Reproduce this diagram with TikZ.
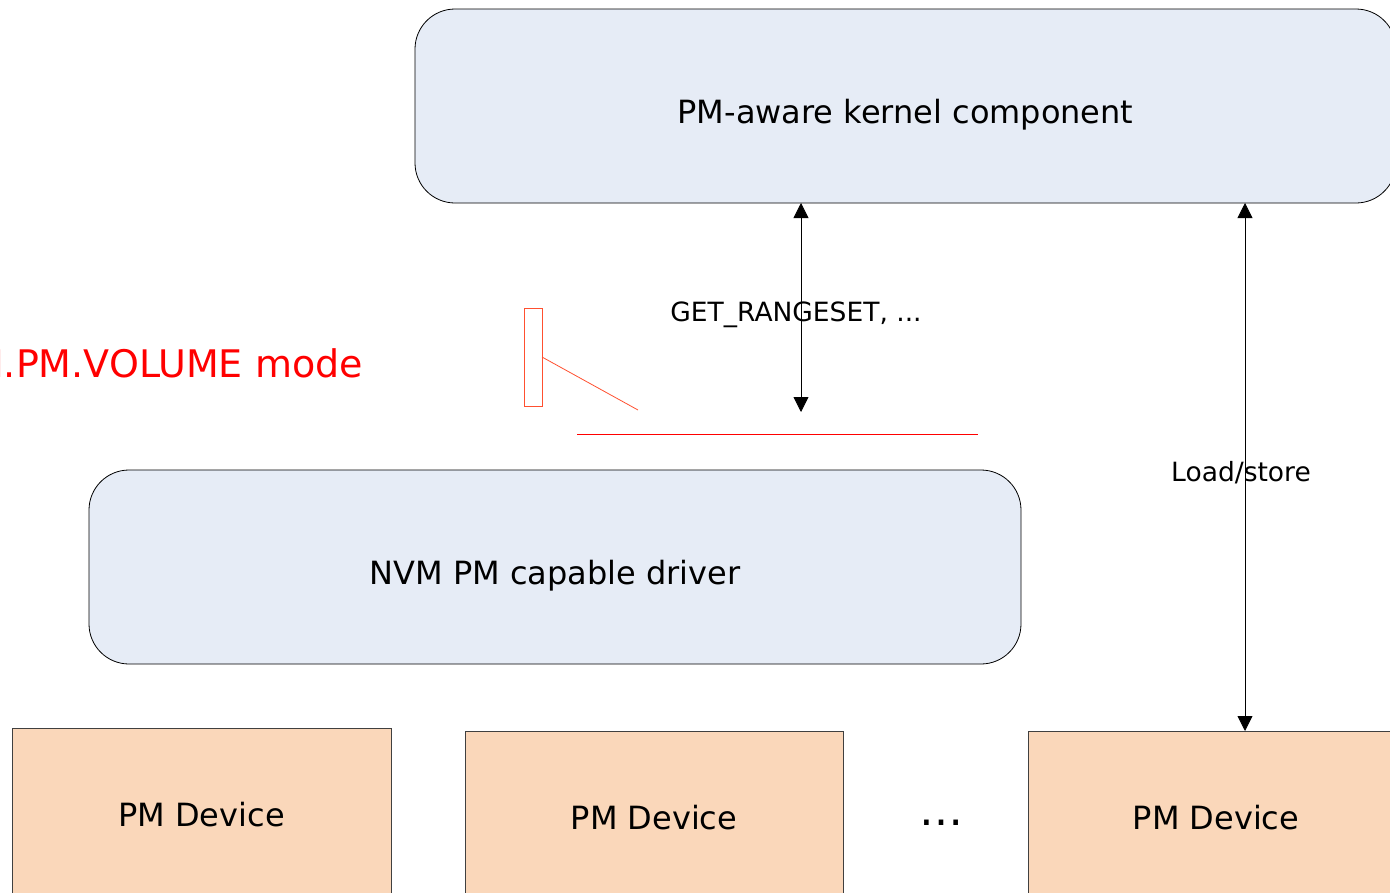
\documentclass[tikz,border=0pt]{standalone}
\usepackage{fontspec}
\setmainfont{DejaVu Sans}
\usetikzlibrary{arrows.meta,positioning}

\definecolor{layerblue}{HTML}{E6ECF6}
\definecolor{devpeach}{HTML}{FAD7BA}
\definecolor{calloutred}{HTML}{FF5030}

\begin{document}
\begin{tikzpicture}
[
                     x =  1pt,
                     y = -1pt,
                    >= {Triangle[width=15pt,length=15pt]},
          layer/.style = { draw=black, line width=0.8pt, fill=layerblue, rounded corners=40pt, inner sep=0pt, outer sep=0pt, text height=34pt, text depth=0pt, font=\fontsize{32}{38}\selectfont },
         device/.style = { draw=black!75, line width=0.8pt, fill=devpeach, inner sep=0pt, outer sep=0pt, font=\fontsize{32}{38}\selectfont },
          small/.style = { draw=none, fill=none, inner sep=0pt, font=\fontsize{26.5}{31}\selectfont },
        callout/.style = { draw=calloutred, line width=0.8pt, fill=none, inner sep=0pt, outer sep=0pt },
       modelbl/.style = { draw=none, fill=none, text=red, anchor=base east, inner sep=0pt, font=\fontsize{38}{45}\selectfont }
]

	\useasboundingbox (0,0) rectangle (1390,892);
	\clip (0,0) rectangle (1390,892);

	\node (kernel) at (905.5,106) [layer, minimum width=981pt, minimum height=194pt] {PM-aware kernel component};
	\node (driver) at (555  ,567) [layer, minimum width=932pt, minimum height=194pt] {NVM PM capable driver};

	\node   (dev1) at (201.5,815) [device, minimum width=379pt, minimum height=174pt] {PM Device};
	\node   (dev2) at (654  ,818) [device, minimum width=378pt, minimum height=174pt] {PM Device};
	\node   (dev3) at (1216 ,818) [device, minimum width=376pt, minimum height=174pt] {PM Device};
	\node   (dots) at (941  ,823) [small, font=\fontsize{44}{50}\selectfont] {…};

	\node (modetxt) at (363,377) [modelbl] {NVM.PM.VOLUME mode};
	\node (callbox) at (533,357) [callout, minimum width=18pt, minimum height=98pt] {};
	\coordinate (calltip) at (638,410);
	\coordinate (redl) at (577,434);
	\coordinate (redr) at (978,434);

	\coordinate (getend) at (801,412);
	\coordinate (lsx) at (1245,0);

	\node (getlbl) at (796 ,315) [small] {GET\_RANGESET, ...};
	\node  (lslbl) at (1241,473) [small] {Load/store};

	\draw[calloutred, line width=0.8pt] (callbox.east) -- (calltip);
	\draw[red, line width=0.8pt] (redl) -- (redr);

	\draw[<->, line width=0.8pt] (getend |- kernel.south) -- (getend);
	\draw[<->, line width=0.8pt] (kernel.south -| lsx) -- (dev3.north -| lsx);

\end{tikzpicture}
\end{document}
